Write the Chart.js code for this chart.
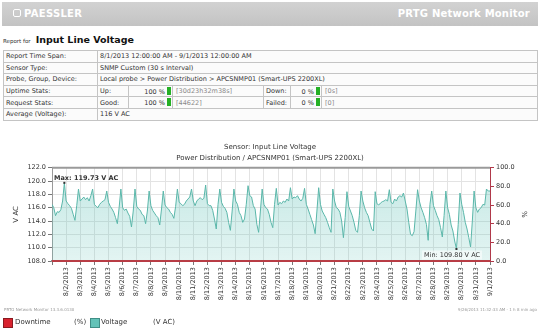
<!DOCTYPE html>
<html>
<head>
<meta charset="utf-8">
<title>Input Line Voltage</title>
<script src="https://cdn.jsdelivr.net/npm/chart.js@4.4.0/dist/chart.umd.min.js"></script>
<style>
  body { margin: 0; width: 540px; height: 330px; background: #fff; position: relative; overflow: hidden;
         font-family: 'DejaVu Sans', sans-serif; color: #333; }
  .topbar { position: absolute; left: 2px; top: 2px; width: 536px; height: 24px;
            background: linear-gradient(#d2d2d2, #c3c3c3); }
  .brand { position: absolute; left: 11px; top: 6px; color: #fff; font-weight: bold; font-size: 10px; letter-spacing: 0.3px; }
  .brand .logo { display: inline-block; width: 6px; height: 6px; border: 1px solid #fff; border-radius: 2px; margin-right: 3px; vertical-align: 0; }
  .product { position: absolute; right: 8px; top: 6px; color: #fff; font-weight: bold; font-size: 10px; letter-spacing: 0.2px; }
  .rtitle { position: absolute; left: 3px; top: 32px; white-space: nowrap; line-height: 12px; }
  .rtitle .small { font-size: 5.5px; }
  .rtitle .big { font-size: 9.5px; font-weight: bold; color: #111; }
  table.info { position: absolute; left: 3px; top: 50px; width: 534px; border-collapse: collapse; table-layout: fixed;
               font-size: 6.5px; background: #fbfbfb; }
  table.info td { border: 1px solid #c4c4c4; height: 10.6px; padding: 0 2px; white-space: nowrap; overflow: hidden; }
  table.info td.num { text-align: right; padding-right: 0; }
  table.info td.grey { color: #8a8a8a; padding-left: 3px; }
  .bar { display: inline-block; width: 4px; height: 8px; background: #25b025; vertical-align: -1px; margin-left: 2px; margin-right: 1px; }
  #wrap { position: absolute; left: 0; top: 138px; width: 540px; height: 172px; }
  .foot { position: absolute; font-size: 4px; color: #999; top: 307px; }
  .legend { position: absolute; top: 318px; left: 3px; font-size: 7px; white-space: nowrap; }
  .legend span { position: absolute; top: 0; }
  .legend .sw { width: 8px; height: 8px; top: 0; }
</style>
</head>
<body>
<div class="topbar">
  <div class="brand"><span class="logo"></span>PAESSLER</div>
  <div class="product">PRTG Network Monitor</div>
</div>
<div class="rtitle"><span class="small">Report for</span> <span class="big">Input Line Voltage</span></div>

<table class="info">
  <colgroup>
    <col style="width:94px"><col style="width:31px"><col style="width:44px"><col style="width:91px">
    <col style="width:27px"><col style="width:31px"><col style="width:216px">
  </colgroup>
  <tr><td>Report Time Span:</td><td colspan="6">8/1/2013 12:00:00 AM - 9/1/2013 12:00:00 AM</td></tr>
  <tr><td>Sensor Type:</td><td colspan="6">SNMP Custom (30 s Interval)</td></tr>
  <tr><td>Probe, Group, Device:</td><td colspan="6">Local probe &gt; Power Distribution &gt; APCSNMP01 (Smart-UPS 2200XL)</td></tr>
  <tr><td>Uptime Stats:</td><td>Up:</td><td class="num">100 %<span class="bar"></span></td><td class="grey">[30d23h32m38s]</td>
      <td>Down:</td><td class="num">0 %<span class="bar"></span></td><td class="grey">[0s]</td></tr>
  <tr><td>Request Stats:</td><td>Good:</td><td class="num">100 %<span class="bar"></span></td><td class="grey">[44622]</td>
      <td>Failed:</td><td class="num">0 %<span class="bar"></span></td><td class="grey">[0]</td></tr>
  <tr><td>Average (Voltage):</td><td colspan="6">116 V AC</td></tr>
</table>

<div id="wrap"><canvas id="voltChart"></canvas></div>

<div class="foot" style="left:4px">PRTG Network Monitor 13.3.6.0130</div>
<div class="foot" style="right:3px">9/26/2013 11:32:33 AM - 1 h 8 min ago</div>

<div class="legend">
  <span class="sw" style="left:0; background:#d8222e; border:0.5px solid #8a1a20"></span>
  <span style="left:12px">Downtime</span>
  <span style="left:71px">(%)</span>
  <span class="sw" style="left:87px; background:#63c3b8; border:0.5px solid #3f8e86"></span>
  <span style="left:98px">Voltage</span>
  <span style="left:150px">(V AC)</span>
</div>

<script>
// x tick labels (one per day boundary after the start)
const dayLabels = [
  '8/2/2013', '8/3/2013', '8/4/2013', '8/5/2013', '8/6/2013', '8/7/2013', '8/8/2013', '8/9/2013',
  '8/10/2013', '8/11/2013', '8/12/2013', '8/13/2013', '8/14/2013', '8/15/2013', '8/16/2013', '8/17/2013',
  '8/18/2013', '8/19/2013', '8/20/2013', '8/21/2013', '8/22/2013', '8/23/2013', '8/24/2013', '8/25/2013',
  '8/26/2013', '8/27/2013', '8/28/2013', '8/29/2013', '8/30/2013', '8/31/2013', '9/1/2013'
];

// voltage samples, every 3 hours (8 per day), 8/1 00:00 .. 9/1 00:00
const samplesPerDay = 8;
const voltage = [
  116.5, 116.0, 114.8, 115.4, 115.3, 115.7, 117.0, 119.73,  // 8/1
  117.0, 116.6, 116.3, 115.9, 115.0, 114.1, 116.3, 118.8,   // 8/2
  117.0, 117.3, 117.6, 117.2, 117.5, 117.0, 117.8, 118.8,   // 8/3
  116.5, 116.2, 116.0, 116.5, 116.8, 117.0, 117.2, 118.5,   // 8/4
  116.8, 116.2, 115.8, 115.3, 114.5, 113.6, 116.0, 118.8,   // 8/5
  116.0, 115.6, 115.8, 115.2, 114.7, 113.1, 115.5, 118.8,   // 8/6
  116.2, 115.8, 115.6, 115.0, 114.8, 113.6, 115.5, 118.5,   // 8/7
  116.3, 115.6, 115.2, 114.8, 114.5, 113.4, 115.8, 118.5,   // 8/8
  116.4, 116.0, 115.8, 115.3, 115.0, 114.4, 116.2, 118.8,   // 8/9
  116.8, 116.6, 116.3, 116.5, 117.0, 117.3, 117.6, 118.8,   // 8/10
  117.0, 116.3, 117.0, 117.3, 117.5, 117.2, 117.4, 119.4,   // 8/11
  116.6, 116.3, 116.3, 115.6, 114.3, 112.8, 116.5, 118.8,   // 8/12
  116.8, 116.2, 115.9, 115.3, 113.8, 112.6, 115.5, 118.8,   // 8/13
  117.0, 116.5, 115.3, 114.8, 113.8, 114.3, 116.5, 119.3,   // 8/14
  117.8, 117.6, 116.3, 115.8, 113.5, 112.3, 115.5, 118.8,   // 8/15
  116.5, 116.0, 115.8, 115.0, 113.8, 113.0, 116.5, 118.9,   // 8/16
  116.4, 116.8, 116.6, 117.0, 116.8, 117.3, 117.0, 119.0,   // 8/17
  117.3, 117.6, 117.5, 117.8, 117.3, 117.0, 117.4, 118.9,   // 8/18
  116.5, 115.8, 115.0, 114.2, 113.4, 112.1, 115.5, 119.0,   // 8/19
  116.5, 115.5, 115.0, 114.5, 113.8, 113.0, 112.3, 118.8,   // 8/20
  117.0, 116.0, 115.8, 115.3, 114.0, 111.5, 114.5, 118.4,   // 8/21
  116.2, 115.5, 114.8, 113.8, 112.6, 112.3, 114.8, 118.5,   // 8/22
  117.0, 116.0, 115.3, 114.8, 113.8, 112.8, 112.5, 118.4,   // 8/23
  116.6, 116.4, 116.7, 116.9, 117.0, 117.2, 117.0, 118.7,   // 8/24
  116.8, 116.6, 117.3, 117.0, 117.6, 117.8, 117.6, 118.2,   // 8/25
  117.0, 115.8, 113.8, 112.0, 111.8, 112.4, 115.5, 118.7,   // 8/26
  117.0, 116.0, 115.3, 114.5, 113.5, 111.1, 116.5, 118.5,   // 8/27
  116.3, 115.6, 114.8, 114.2, 113.0, 111.6, 114.8, 118.5,   // 8/28
  116.0, 115.0, 113.4, 112.5, 111.0, 109.8, 113.5, 118.2,   // 8/29
  116.5, 115.3, 113.8, 112.8, 111.5, 110.1, 114.0, 118.5,   // 8/30
  116.0, 115.3, 115.8, 116.0, 116.5, 116.4, 118.8, 118.5,   // 8/31
  118.5                                                     // 9/1 00:00
];

// downtime in %, one value per day boundary
const downtimePct = [
  0, 0, 0, 0, 0, 0, 0, 0, 0, 0, 0, 0, 0, 0, 0, 0,
  0, 0, 0, 0, 0, 0, 0, 0, 0, 0, 0, 0, 0, 0, 0, 0
];

const voltTicks = { min: 108, max: 122, step: 2 };
const pctTicks = { min: 0, max: 100, step: 20 };

Chart.defaults.font.family = "'DejaVu Sans', sans-serif";
Chart.defaults.font.size = 6.5;
Chart.defaults.color = '#333';

// frame on top of the plot plus the max / min captions
const framePlugin = {
  id: 'framePlugin',
  afterDatasetsDraw(chart) {
    const { ctx, chartArea: a, scales } = chart;
    ctx.save();
    ctx.strokeStyle = '#9a9a9a';
    ctx.lineWidth = 2;
    ctx.beginPath();
    ctx.moveTo(a.left, a.top);
    ctx.lineTo(a.right, a.top);
    ctx.stroke();

    const maxV = Math.max(...voltage);
    const minV = Math.min(...voltage);
    const iMax = voltage.indexOf(maxV);
    const iMin = voltage.indexOf(minV);
    ctx.fillStyle = '#333';
    [[iMax, maxV], [iMin, minV]].forEach(([i, v]) => {
      const px = scales.x.getPixelForValue(i / samplesPerDay);
      const py = scales.y.getPixelForValue(v);
      ctx.fillRect(px - 1, py - 1, 2, 2);
    });

    ctx.font = "bold 6.5px 'DejaVu Sans'";
    ctx.textBaseline = 'middle';
    ctx.textAlign = 'left';
    ctx.fillText('Max: ' + maxV.toFixed(2) + ' V AC', a.left + 2, a.top + 11);

    const minText = 'Min: ' + minV.toFixed(2) + ' V AC';
    ctx.font = "6.5px 'DejaVu Sans'";
    const w = ctx.measureText(minText).width;
    const tx = a.right - 10 - w;
    const ty = a.bottom - 6;
    ctx.fillStyle = 'rgba(255,255,255,0.55)';
    ctx.fillRect(tx - 2, ty - 4.5, w + 4, 9);
    ctx.fillStyle = '#333';
    ctx.fillText(minText, tx, ty);
    ctx.restore();
  }
};

const ctx = document.getElementById('voltChart').getContext('2d');
new Chart(ctx, {
  type: 'line',
  data: {
    datasets: [
      {
        label: 'Downtime',
        yAxisID: 'y1',
        data: downtimePct.map((v, i) => ({ x: i, y: v })),
        borderColor: '#c8202c',
        borderWidth: 1.5,
        pointRadius: 0,
        fill: false,
        clip: false,
        order: 0
      },
      {
        label: 'Voltage',
        yAxisID: 'y',
        data: voltage.map((v, i) => ({ x: i / samplesPerDay, y: v })),
        borderColor: '#5bb7aa',
        borderWidth: 1,
        pointRadius: 0,
        tension: 0,
        fill: 'start',
        backgroundColor: (c) => {
          const area = c.chart.chartArea;
          if (!area) return 'rgba(99,195,184,0.3)';
          const g = c.chart.ctx.createLinearGradient(0, area.top, 0, area.bottom);
          g.addColorStop(0, 'rgba(99,195,184,0.38)');
          g.addColorStop(1, 'rgba(99,195,184,0.18)');
          return g;
        },
        order: 1
      }
    ]
  },
  options: {
    responsive: true,
    maintainAspectRatio: false,
    animation: false,
    layout: { padding: { left: 0, right: 0, top: 0, bottom: 0 } },
    plugins: {
      legend: { display: false },
      tooltip: { enabled: false },
      title: {
        display: true,
        text: ['Sensor: Input Line Voltage', 'Power Distribution / APCSNMP01 (Smart-UPS 2200XL)'],
        color: '#333',
        font: { size: 7, weight: 'normal', lineHeight: 1.55 },
        padding: { top: 4, bottom: 4 }
      }
    },
    scales: {
      x: {
        type: 'linear',
        min: 0,
        max: dayLabels.length,
        afterFit: (s) => { s.height = 49; },
        ticks: {
          stepSize: 1,
          autoSkip: false,
          maxRotation: 90,
          minRotation: 90,
          padding: 2,
          color: '#333',
          callback: (v) => (v >= 1 ? dayLabels[v - 1] : '')
        },
        grid: { color: '#e3e3e3', tickColor: '#777', tickLength: 4 },
        border: { color: '#8c8c8c', width: 2 }
      },
      y: {
        position: 'left',
        min: voltTicks.min,
        max: voltTicks.max,
        afterFit: (s) => { s.width = 52; },
        ticks: { stepSize: voltTicks.step, padding: 2, color: '#333', callback: (v) => v.toFixed(1) },
        grid: { color: '#e3e3e3', tickColor: '#777', tickLength: 4 },
        border: { color: '#9a9a9a', width: 1 },
        title: { display: true, text: 'V AC', color: '#333', font: { size: 7 }, padding: { top: 12, bottom: 0 } }
      },
      y1: {
        position: 'right',
        min: pctTicks.min,
        max: pctTicks.max,
        afterFit: (s) => { s.width = 50; },
        ticks: { stepSize: pctTicks.step, padding: 2, color: '#333', callback: (v) => v.toFixed(1) },
        grid: { drawOnChartArea: false, tickColor: '#b0394a', tickLength: 4 },
        border: { color: '#b0394a', width: 1 },
        title: { display: true, text: '%', color: '#333', font: { size: 7 }, padding: { top: 12, bottom: 0 } }
      }
    }
  },
  plugins: [framePlugin]
});
</script>
</body>
</html>
